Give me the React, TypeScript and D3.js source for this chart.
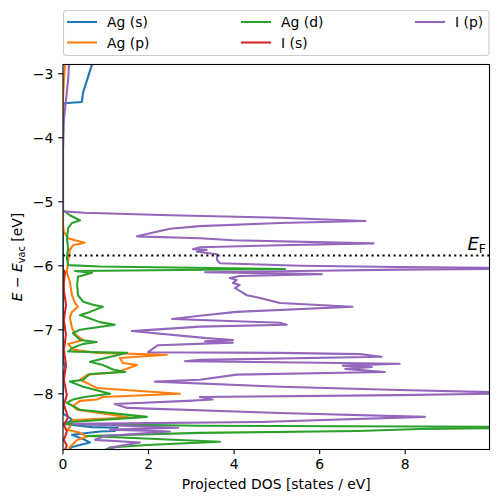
import React from 'react';
import * as d3 from 'd3';

// [energy (eV), projected DOS (states/eV)]
const agS: [number, number][] = [
  [-2.80, 0.72], [-2.85, 0.68], [-3.29, 0.47], [-3.44, 0.44], [-3.46, 0.02], [-3.54, 0], [-7.47, 0], [-7.59, 0.05],
  [-7.70, 0], [-8.31, 0], [-8.36, 0.12], [-8.41, 0.23], [-8.47, 0.02], [-8.52, 0.68], [-8.53, 1.28], [-8.58, 1.21],
  [-8.59, 0.86], [-8.64, 0.21], [-8.72, 0.51], [-8.76, 0.63], [-8.83, 0.21], [-8.91, 0.07],
];
const agP: [number, number][] = [
  [-2.80, 0.06], [-2.85, 0.05], [-3.10, 0.02], [-3.41, 0], [-5.36, 0], [-5.47, 0.02], [-5.57, 0.12], [-5.60, 0.28],
  [-5.64, 0.51], [-5.68, 0.23], [-5.75, 0.16], [-5.94, 0.12], [-6.10, 0.09], [-6.25, 0.16], [-6.46, 0.21], [-6.58, 0.28],
  [-6.64, 0.35], [-6.72, 0.21], [-6.81, 0.16], [-6.97, 0.21], [-7.08, 0.30], [-7.16, 0.47], [-7.22, 0.12], [-7.31, 0.23],
  [-7.36, 0.79], [-7.39, 2.43], [-7.44, 1.33], [-7.52, 1.40], [-7.55, 1.73], [-7.66, 1.28], [-7.70, 0.58], [-7.78, 0.40],
  [-7.83, 0.56], [-7.91, 0.79], [-8.00, 2.73], [-8.05, 0.93], [-8.09, 0.79], [-8.11, 0.40], [-8.19, 0.23], [-8.25, 0.33],
  [-8.30, 0.86], [-8.37, 1.56], [-8.41, 0.23], [-8.52, 0.16], [-8.56, 0.09], [-8.61, 0.40], [-8.67, 0.56], [-8.72, 0.33],
  [-8.83, 0.16], [-8.91, 0.12],
];
const agD: [number, number][] = [
  [-4.98, 0], [-5.13, 0], [-5.21, 0.16], [-5.29, 0.40], [-5.33, 0.21], [-5.41, 0.12], [-5.57, 0.09], [-5.72, 0.12],
  [-5.88, 0.09], [-5.99, 0.12], [-6.01, 0.86], [-6.05, 5.19], [-6.08, 0.28], [-6.11, 0.68], [-6.17, 0.35], [-6.30, 0.33],
  [-6.46, 0.35], [-6.56, 0.47], [-6.61, 0.70], [-6.64, 0.93], [-6.72, 0.63], [-6.77, 0.40], [-6.88, 0.86], [-6.92, 1.21],
  [-7.00, 0.40], [-7.05, 0.23], [-7.16, 0.40], [-7.19, 0.79], [-7.22, 0.47], [-7.28, 0.23], [-7.34, 0.12], [-7.36, 1.50],
  [-7.50, 0.63], [-7.55, 0.93], [-7.62, 1.17], [-7.66, 1.45], [-7.69, 0.63], [-7.78, 0.47], [-7.81, 0.16], [-7.89, 0.47],
  [-8.00, 1.10], [-8.05, 0.51], [-8.09, 0.23], [-8.14, 0.09], [-8.25, 0.40], [-8.36, 1.96], [-8.44, 0.16], [-8.47, 0.09],
  [-8.50, 3.20], [-8.52, 12.0], [-8.55, 8.34], [-8.58, 6.89], [-8.61, 3.20], [-8.66, 0.56], [-8.75, 3.67], [-8.80, 1.96],
  [-8.84, 1.10], [-8.91, 0.86],
];
const iS: [number, number][] = [
  [-6.05, 0], [-6.10, 0.05], [-6.25, 0.02], [-6.38, 0.02], [-6.61, 0.07], [-6.85, 0.02], [-7.08, 0.07], [-7.31, 0.02],
  [-7.55, 0.07], [-7.78, 0.02], [-8.02, 0.09], [-8.17, 0.02], [-8.37, 0.12], [-8.48, 0.02], [-8.59, 0.09], [-8.72, 0.02],
  [-8.81, 0.09], [-8.91, 0.02],
];
const iP: [number, number][] = [
  [-2.80, 0.15], [-2.85, 0.14], [-3.10, 0.12], [-3.41, 0.07], [-3.73, 0.02], [-4.19, 0], [-5.15, 0], [-5.17, 0.5],
  [-5.21, 2.50], [-5.25, 5.07], [-5.30, 7.07], [-5.33, 5.07], [-5.38, 3.20], [-5.42, 2.50], [-5.54, 1.73], [-5.57, 3.20],
  [-5.60, 3.97], [-5.65, 7.26], [-5.68, 5.07], [-5.71, 3.20], [-5.74, 3.04], [-5.75, 3.36], [-5.78, 3.13], [-5.82, 3.60],
  [-5.91, 3.60], [-5.96, 3.67], [-6.00, 5.54], [-6.02, 7.87], [-6.04, 12.0], [-6.06, 7.87], [-6.08, 5.54], [-6.10, 3.32],
  [-6.13, 6.05], [-6.16, 4.13], [-6.19, 3.90], [-6.22, 4.06], [-6.27, 3.97], [-6.30, 4.13], [-6.35, 4.02], [-6.41, 4.18],
  [-6.46, 4.30], [-6.49, 4.53], [-6.53, 4.77], [-6.58, 5.07], [-6.64, 6.77], [-6.72, 4.06], [-6.78, 3.20], [-6.83, 2.55],
  [-6.89, 5.07], [-6.92, 5.23], [-6.95, 3.20], [-7.02, 1.61], [-7.13, 3.36], [-7.16, 3.97], [-7.18, 3.32], [-7.20, 3.97],
  [-7.24, 2.22], [-7.35, 1.99], [-7.36, 5.07], [-7.38, 6.94], [-7.42, 7.45], [-7.47, 3.20], [-7.49, 2.85], [-7.51, 5.54],
  [-7.53, 7.87], [-7.56, 6.54], [-7.58, 7.22], [-7.61, 6.60], [-7.66, 7.52], [-7.70, 4.06], [-7.78, 3.20], [-7.81, 2.15],
  [-7.89, 5.07], [-7.94, 7.87], [-7.99, 11.0], [-8.02, 7.87], [-8.05, 3.20], [-8.09, 3.50], [-8.11, 2.90], [-8.16, 1.21],
  [-8.22, 1.50], [-8.30, 5.07], [-8.36, 8.46], [-8.44, 4.60], [-8.47, 0.23], [-8.53, 2.69], [-8.56, 1.10], [-8.59, 2.50],
  [-8.66, 0.98], [-8.72, 0.75], [-8.76, 1.80], [-8.84, 1.10], [-8.91, 1.33],
];

const seriesNames = ['Ag (s)', 'Ag (p)', 'Ag (d)', 'I (s)', 'I (p)'];
const seriesColors = ['#1f77b4', '#ff7f0e', '#2ca02c', '#d62728', '#9467bd'];
const seriesData = [agS, agP, agD, iS, iP];
const xTicks = [0, 2, 4, 6, 8];
const yTicks = [-3, -4, -5, -6, -7, -8];
const fermiEnergy = -5.84;
const xDomain: [number, number] = [0, 9.97];
const yDomain: [number, number] = [-8.87, -2.855];

const FONT = 'DejaVu Sans, sans-serif';

export default function App() {
  const L = 63, R = 489.5, T = 64.5, B = 449.5;
  const x = d3.scaleLinear().domain(xDomain).range([L, R]);
  const y = d3.scaleLinear().domain(yDomain).range([B, T]);
  const line = d3.line<[number, number]>().x(d => x(d[1])).y(d => y(d[0]));
  const fmt = (v: number) => (v < 0 ? '\u2212' + Math.abs(v) : String(v));

  const legendItems = [
    { i: 0, col: 0, row: 0 }, { i: 1, col: 0, row: 1 },
    { i: 2, col: 1, row: 0 }, { i: 3, col: 1, row: 1 },
    { i: 4, col: 2, row: 0 },
  ];
  const colX = [67, 241, 415];

  return (
    <svg width={498} height={502} style={{ position: 'absolute', left: 0, top: 0, background: '#fff' }}
      fontFamily={FONT}>
      <rect x={0} y={0} width={498} height={502} fill="#fff" />
      <defs>
        <clipPath id="plotclip">
          <rect x={L} y={T} width={R - L} height={B - T} />
        </clipPath>
      </defs>
      <g clipPath="url(#plotclip)">
        {seriesData.map((d, i) => (
          <path key={i} d={line(d) || ''} fill="none" stroke={seriesColors[i]} strokeWidth={2.08}
            strokeLinejoin="round" strokeLinecap="square" />
        ))}
        <line x1={x(0)} x2={R} y1={y(fermiEnergy)} y2={y(fermiEnergy)} stroke="#000" strokeWidth={2.08}
          strokeDasharray="2.08,3.43" />
      </g>
      <text x={486} y={250} fontSize={18} textAnchor="end">
        <tspan fontStyle="italic">E</tspan>
        <tspan fontSize={12.5} dy={3}>F</tspan>
      </text>
      {/* frame */}
      <rect x={L} y={T} width={R - L} height={B - T} fill="none" stroke="#000" strokeWidth={1.1} />
      {/* x ticks */}
      {xTicks.map(t => (
        <g key={t}>
          <line x1={x(t)} x2={x(t)} y1={B} y2={B + 4.86} stroke="#000" strokeWidth={1.1} />
          <text x={x(t)} y={B + 19} fontSize={13.9} textAnchor="middle">{fmt(t)}</text>
        </g>
      ))}
      {yTicks.map(t => (
        <g key={t}>
          <line x1={L - 4.86} x2={L} y1={y(t)} y2={y(t)} stroke="#000" strokeWidth={1.1} />
          <text x={L - 9.7} y={y(t) + 5} fontSize={13.9} textAnchor="end">{fmt(t)}</text>
        </g>
      ))}
      <text x={(L + R) / 2} y={489} fontSize={13.9} textAnchor="middle">Projected DOS [states / eV]</text>
      <text transform={`translate(22,${(T + B) / 2}) rotate(-90)`} fontSize={13.9} textAnchor="middle">
        <tspan fontStyle="italic">E</tspan>
        <tspan> {'\u2212'} </tspan>
        <tspan fontStyle="italic">E</tspan>
        <tspan fontSize={9.7} dy={2.5}>vac</tspan>
        <tspan dy={-2.5}> [eV]</tspan>
      </text>
      {/* legend */}
      <rect x={63.5} y={10.5} width={425.5} height={45} rx={3} fill="#fff" fillOpacity={0.8}
        stroke="#cccccc" strokeWidth={1.1} />
      {legendItems.map(({ i, col, row }) => (
        <g key={i}>
          <line x1={colX[col]} x2={colX[col] + 30} y1={22 + row * 20.5} y2={22 + row * 20.5}
            stroke={seriesColors[i]} strokeWidth={2.08} />
          <text x={colX[col] + 40} y={27 + row * 20.5} fontSize={13.9}>{seriesNames[i]}</text>
        </g>
      ))}
    </svg>
  );
}
